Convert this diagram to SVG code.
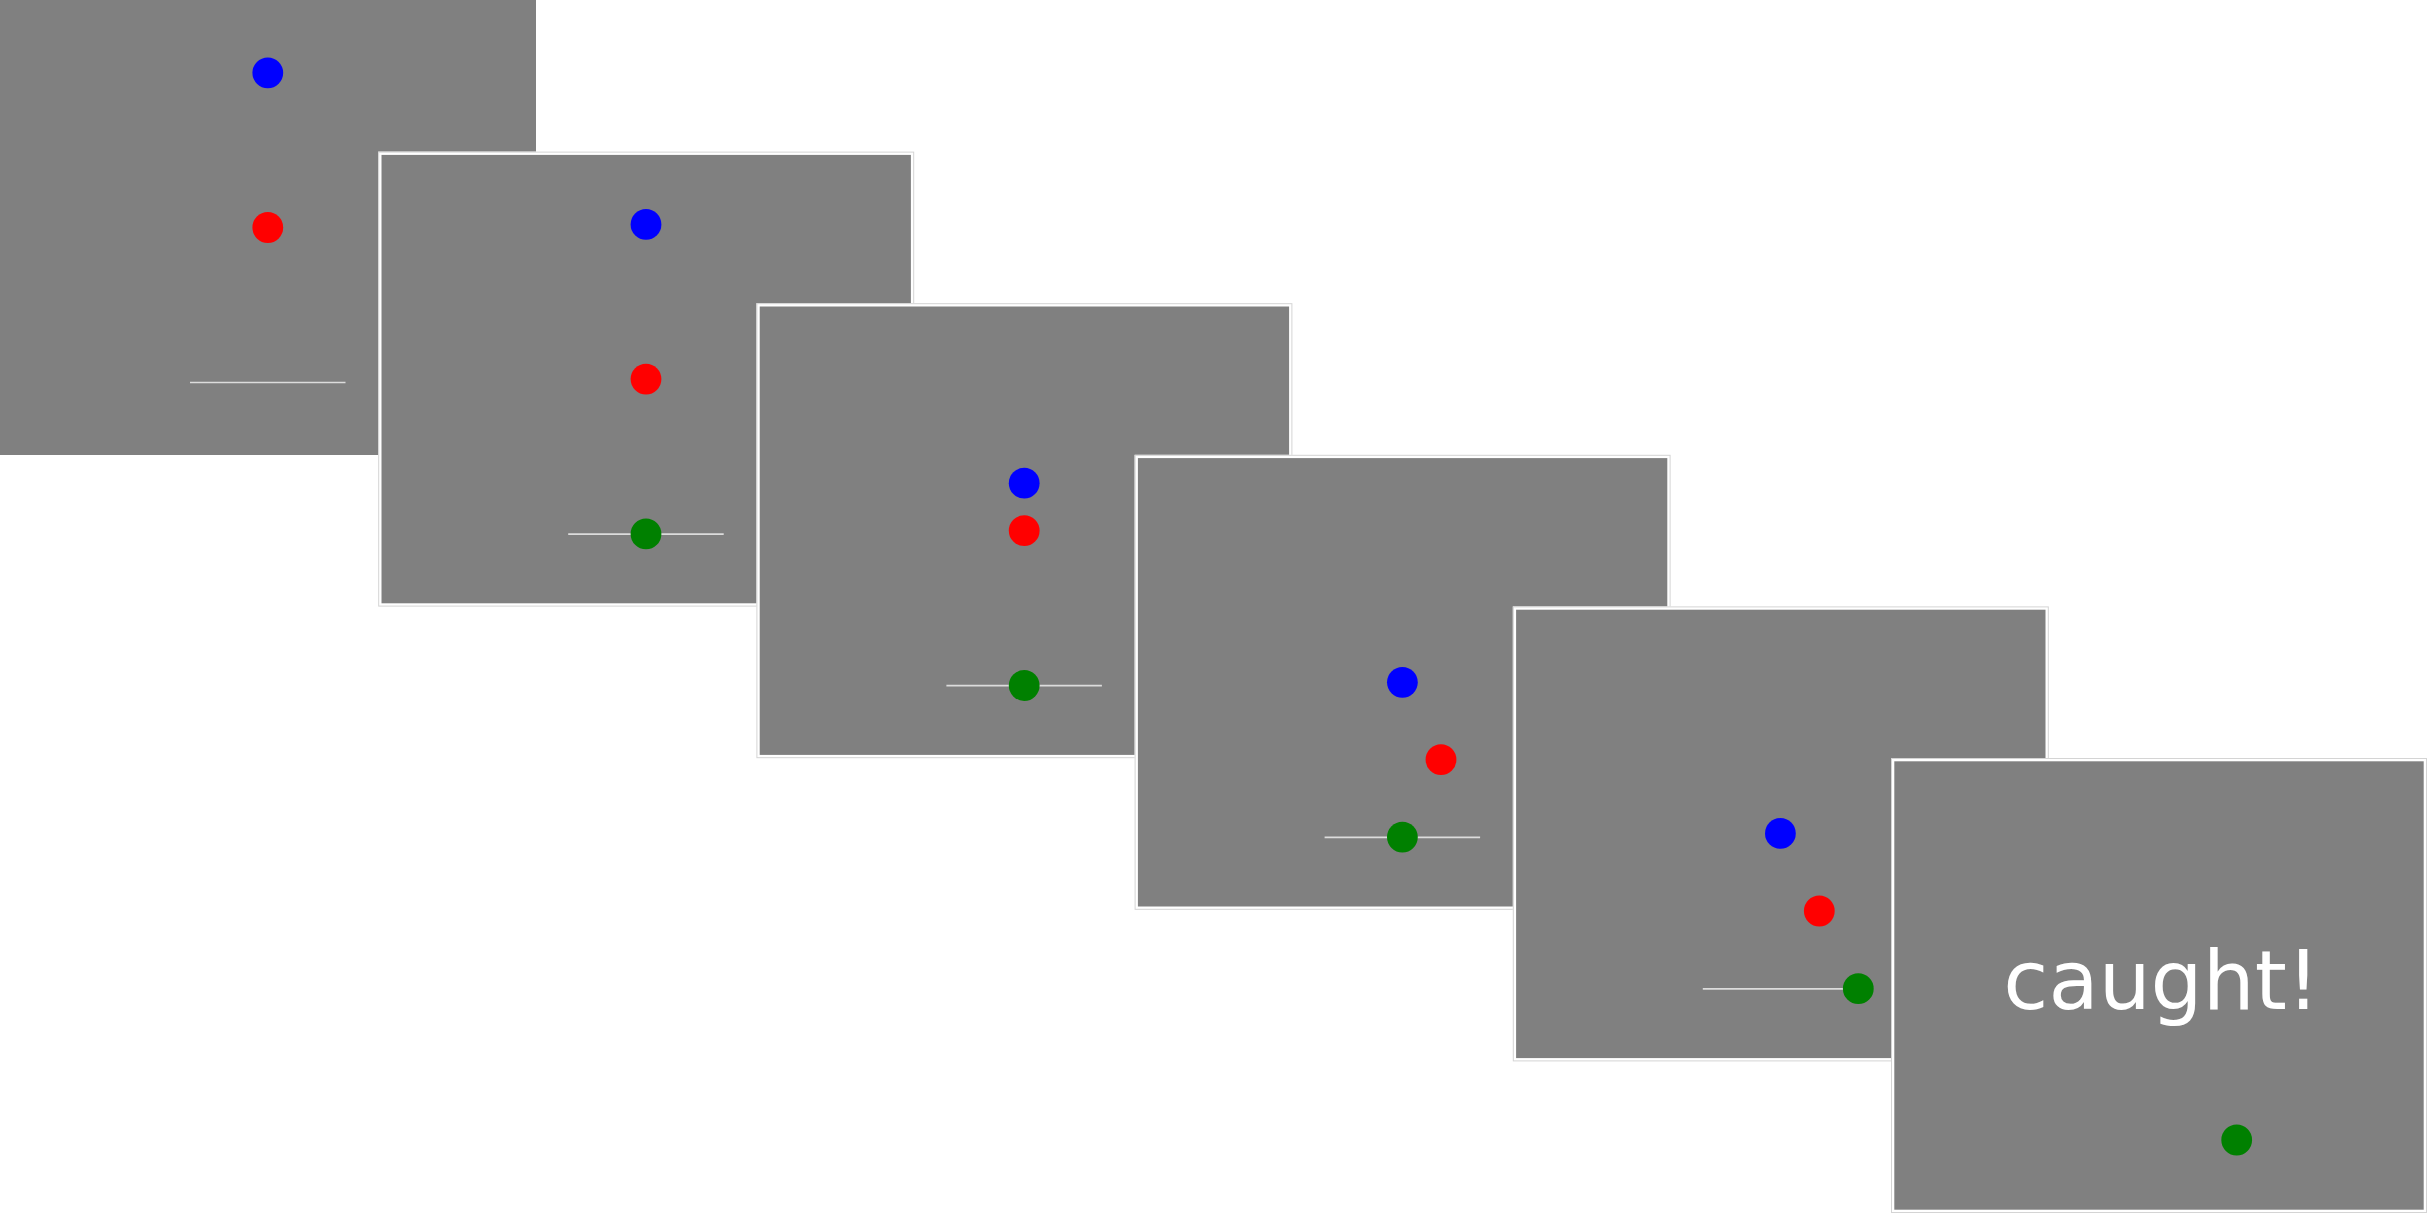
<svg xmlns="http://www.w3.org/2000/svg" width="2427" height="1213" viewBox="0 0 2427 1213">
<style>
.bg{fill:#808080}
.frame{fill:#808080;stroke:#ffffff;stroke-width:3.3}
.edge{fill:none;stroke:#d4d4d4;stroke-width:1}
.track{stroke:#dcdcdc;stroke-width:1.7}
.blue{fill:#0000ff}
.red{fill:#ff0000}
.green{fill:#008000}
.msg{fill:#ffffff;font-family:"DejaVu Sans",Verdana,sans-serif;font-size:82px;text-anchor:middle}
</style>
<rect width="2427" height="1213" fill="#ffffff"/>
<g id="panel0">
<rect class="bg" x="0" y="0" width="536" height="455"/>
<line class="track" x1="190" y1="382.5" x2="345.5" y2="382.5"/>
<circle class="blue" cx="267.8" cy="72.8" r="15.4"/>
<circle class="red" cx="267.8" cy="227.5" r="15.4"/>
</g>
<g id="panel1" transform="translate(378.2,151.6)">
<rect class="frame" x="1.65" y="1.65" width="532.7" height="451.7"/>
<rect class="edge" x="0.5" y="0.5" width="535" height="454"/>
<line class="track" x1="190" y1="382.5" x2="345.5" y2="382.5"/>
<circle class="blue" cx="267.8" cy="72.8" r="15.4"/>
<circle class="red" cx="267.8" cy="227.5" r="15.4"/>
<circle class="green" cx="267.8" cy="382.3" r="15.4"/>
</g>
<g id="panel2" transform="translate(756.4,303.2)">
<rect class="frame" x="1.65" y="1.65" width="532.7" height="451.7"/>
<rect class="edge" x="0.5" y="0.5" width="535" height="454"/>
<line class="track" x1="190" y1="382.5" x2="345.5" y2="382.5"/>
<circle class="blue" cx="267.8" cy="180" r="15.4"/>
<circle class="red" cx="267.8" cy="227.5" r="15.4"/>
<circle class="green" cx="267.8" cy="382.3" r="15.4"/>
</g>
<g id="panel3" transform="translate(1134.6,454.8)">
<rect class="frame" x="1.65" y="1.65" width="532.7" height="451.7"/>
<rect class="edge" x="0.5" y="0.5" width="535" height="454"/>
<line class="track" x1="190" y1="382.5" x2="345.5" y2="382.5"/>
<circle class="blue" cx="267.8" cy="227.5" r="15.4"/>
<circle class="red" cx="306.4" cy="304.9" r="15.4"/>
<circle class="green" cx="267.8" cy="382.3" r="15.4"/>
</g>
<g id="panel4" transform="translate(1512.8,606.4)">
<rect class="frame" x="1.65" y="1.65" width="532.7" height="451.7"/>
<rect class="edge" x="0.5" y="0.5" width="535" height="454"/>
<line class="track" x1="190" y1="382.5" x2="345.5" y2="382.5"/>
<circle class="blue" cx="267.6" cy="227" r="15.4"/>
<circle class="red" cx="306.5" cy="304.6" r="15.4"/>
<circle class="green" cx="345.5" cy="382.3" r="15.4"/>
</g>
<g id="panel5" transform="translate(1891,758)">
<rect class="frame" x="1.65" y="1.65" width="532.7" height="451.7"/>
<rect class="edge" x="0.5" y="0.5" width="535" height="454"/>
<text class="msg" x="270.5" y="251">caught!</text>
<circle class="green" cx="345.7" cy="382" r="15.4"/>
</g>
<g id="connectors"/>
</svg>
